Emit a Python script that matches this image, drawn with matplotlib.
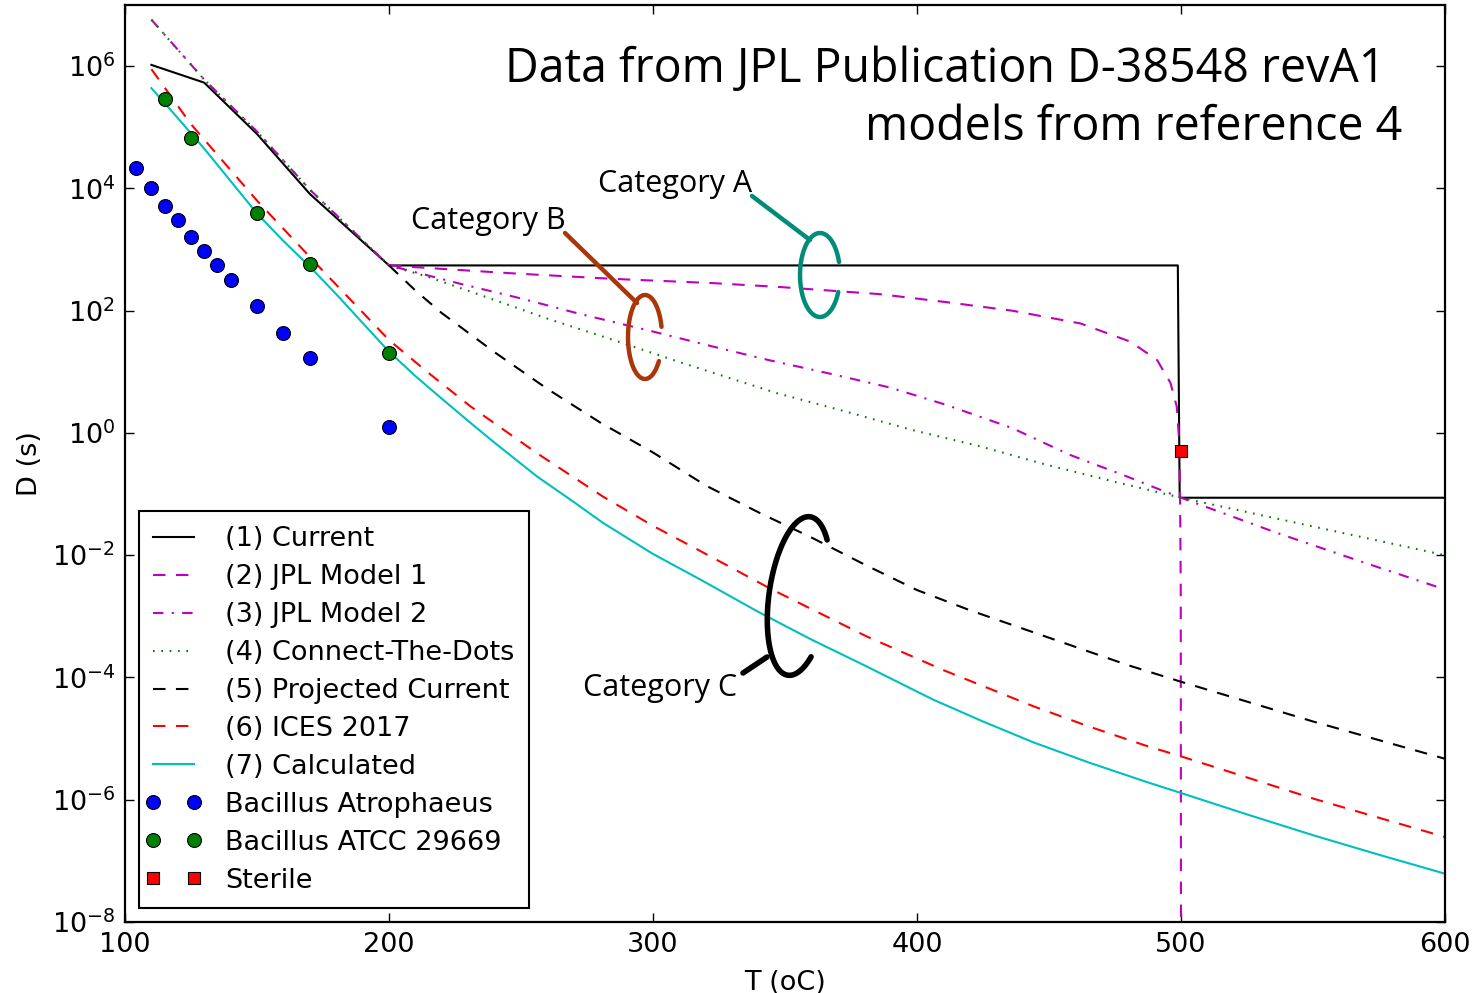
import numpy as np
import matplotlib
matplotlib.use('Agg')
import matplotlib.pyplot as plt
from matplotlib.transforms import Affine2D
from matplotlib.lines import Line2D
from matplotlib.legend_handler import HandlerLine2D
from matplotlib.ticker import NullLocator, FixedLocator

# ---------------- data (log10 of D in seconds) -------------
T_current = [110, 130, 150, 170, 200, 498.8, 499.5, 600]
logD_current = [6.02, 5.73, 4.89, 3.91, 2.74, 2.74, -1.06, -1.06]

T_jpl1 = [200, 225, 247, 285, 323, 347, 386, 411, 436, 462, 481, 491, 496, 498.4, 499.2, 499.6, 499.9, 500]
logD_jpl1 = [2.74, 2.67, 2.61, 2.52, 2.45, 2.39, 2.27, 2.14, 2.00, 1.79, 1.49, 1.19, 0.82, 0.43, -0.07, -0.82, -2.5, -9]

T_jpl2 = [110, 130, 150, 170, 200, 227, 250, 272, 298, 323, 344, 367, 390, 411, 436, 458, 480, 491, 500, 536, 570, 600]
logD_jpl2 = [6.76, 5.78, 4.93, 3.98, 2.74, 2.44, 2.20, 1.95, 1.68, 1.41, 1.19, 0.97, 0.74, 0.46, 0.08, -0.36, -0.72, -0.91, -1.06, -1.63, -2.13, -2.56]

T_ctd = [110, 130, 150, 170, 200, 215, 235, 260, 285, 310, 347, 373, 398, 424, 449, 474, 500, 600]
logD_ctd = [6.76, 5.78, 4.93, 3.98, 2.74, 2.55, 2.25, 1.87, 1.52, 1.16, 0.65, 0.35, 0.05, -0.22, -0.52, -0.79, -1.06, -2.0]

T_proj = [200, 210, 220, 240, 260, 280, 300, 320, 340, 360, 380, 400, 420, 440, 460, 480, 500, 550, 600]
logD_proj = [2.74, 2.33, 1.96, 1.32, 0.72, 0.17, -0.32, -0.86, -1.30, -1.71, -2.15, -2.57, -2.90, -3.20, -3.50, -3.80, -4.07, -4.72, -5.33]

T_ices = [110, 125, 150, 175, 200, 215, 231, 256, 281, 300, 317, 345, 381, 410, 444, 465, 487, 500, 550, 600]
logD_ices = [5.95, 5.05, 3.80, 2.65, 1.52, 0.98, 0.43, -0.33, -1.04, -1.52, -1.91, -2.56, -3.33, -3.88, -4.47, -4.80, -5.12, -5.29, -5.98, -6.61]

T_calc = [110, 120, 130, 140, 150, 160, 170, 180, 190, 200, 210, 220, 231, 240, 256, 270, 281, 300, 318, 340, 360, 380, 406, 425, 444, 465, 487, 500, 525, 550, 575, 600]
logD_calc = [5.64, 5.15, 4.65, 4.12, 3.59, 3.14, 2.72, 2.27, 1.80, 1.33, 0.93, 0.56, 0.16, -0.16, -0.71, -1.13, -1.47, -1.98, -2.40, -2.93, -3.38, -3.80, -4.36, -4.72, -5.06, -5.39, -5.71, -5.89, -6.24, -6.58, -6.90, -7.21]

T_atro = [104, 110, 115, 120, 125, 130, 135, 140, 150, 160, 170, 200]
logD_atro = [4.34, 4.01, 3.72, 3.49, 3.21, 2.97, 2.74, 2.50, 2.07, 1.63, 1.22, 0.10]

T_atcc = [115, 125, 150, 170, 200]
logD_atcc = [5.46, 4.82, 3.59, 2.77, 1.31]

T_sterile = [500]
logD_sterile = [-0.29]

labels = ['(1) Current', '(2) JPL Model 1', '(3) JPL Model 2', '(4) Connect-The-Dots',
          '(5) Projected Current', '(6) ICES 2017', '(7) Calculated',
          'Bacillus Atrophaeus', 'Bacillus ATCC 29669', 'Sterile']
xticks = [100, 200, 300, 400, 500, 600]
yticks = [1e-8, 1e-6, 1e-4, 1e-2, 1e0, 1e2, 1e4, 1e6]

def D(v):
    return 10.0 ** np.asarray(v, dtype=float)

# ---------------- figure -------------
W, H = 1478, 993
plt.rcParams['font.family'] = ['DejaVu Sans']
plt.rcParams['mathtext.fontset'] = 'dejavusans'
plt.rcParams['axes.unicode_minus'] = False
fig = plt.figure(figsize=(W / 100, H / 100), dpi=100)
ax = fig.add_axes([125 / W, 1 - 922 / H, (1445 - 125) / W, (922 - 5) / H])

MAG = (0.75, 0.0, 0.75)
GRN = (0.0, 0.5, 0.0)
CYN = (0.0, 0.75, 0.75)
lw = 1.5

ax.plot(T_current, D(logD_current), color='k', lw=lw, label=labels[0])
ax.plot(T_jpl1, D(logD_jpl1), color=MAG, lw=lw, dashes=(6, 5), label=labels[1])
ax.plot(T_jpl2, D(logD_jpl2), color=MAG, lw=lw, dashes=(5, 4, 1, 4), label=labels[2])
ax.plot(T_ctd, D(logD_ctd), color=GRN, lw=lw, dashes=(0.8, 3.2), label=labels[3])
ax.plot(T_proj, D(logD_proj), color='k', lw=lw, dashes=(6, 5), label=labels[4])
ax.plot(T_ices, D(logD_ices), color='r', lw=lw, dashes=(6, 5), label=labels[5])
ax.plot(T_calc, D(logD_calc), color=CYN, lw=lw, label=labels[6])
ax.plot(T_atro, D(logD_atro), 'o', ls='none', color='b', mec='k', mew=0.8, ms=10, label=labels[7], zorder=4)
ax.plot(T_atcc, D(logD_atcc), 'o', ls='none', color=GRN, mec='k', mew=0.8, ms=10, label=labels[8], zorder=4)
ax.plot(T_sterile, D(logD_sterile), 's', ls='none', color='r', mec='k', mew=0.8, ms=9, label=labels[9], zorder=5)

ax.set_yscale('log')
ax.set_xlim(100, 600)
ax.set_ylim(1e-8, 1e7)
ax.xaxis.set_major_locator(FixedLocator(xticks))
ax.yaxis.set_major_locator(FixedLocator(yticks))
ax.yaxis.set_minor_locator(NullLocator())
ax.xaxis.set_minor_locator(NullLocator())
ax.tick_params(direction='in', length=6.5, width=1.0, top=True, right=True,
               labelsize=19.5, pad=7)
for s in ax.spines.values():
    s.set_linewidth(1.6)

ax.set_xlabel('T (oC)', fontsize=19.5)
ax.set_ylabel('D (s)', fontsize=19.5)
ax.xaxis.set_label_coords(0.5, -0.052)
ax.yaxis.set_label_coords(-0.062, 0.5)

leg = ax.legend(loc='lower left', fontsize=19.5, numpoints=2, handlelength=1.5,
                handletextpad=1.15, labelspacing=0.44, borderpad=0.55,
                borderaxespad=0.5, fancybox=False, framealpha=1, edgecolor='k',
                handler_map={Line2D: HandlerLine2D(marker_pad=0)})
leg.get_frame().set_linewidth(1.5)

# ---------------- annotations (figure pixel coordinates, origin top-left) -------------
pxT = Affine2D().scale(1 / W, -1 / H).translate(0, 1) + fig.transFigure

def ftext(x, y, s, **kw):
    fig.text(x / W, 1 - y / H, s, va='baseline', **kw)

ftext(1385, 82, 'Data from JPL Publication D-38548 revA1', ha='right',
      fontsize=33.5, family=['Open Sans', 'DejaVu Sans'])
ftext(1402, 140, 'models from reference 4', ha='right',
      fontsize=33.5, family=['Open Sans', 'DejaVu Sans'])
ftext(598, 192, 'Category A', ha='left', fontsize=22, family=['Open Sans', 'DejaVu Sans'])
ftext(411, 229, 'Category B', ha='left', fontsize=22, family=['Open Sans', 'DejaVu Sans'])
ftext(583, 696, 'Category C', ha='left', fontsize=22, family=['Open Sans', 'DejaVu Sans'])

def seg(x0, y0, x1, y1, color, lw):
    fig.add_artist(Line2D([x0, x1], [y0, y1], transform=pxT, color=color, lw=lw,
                          solid_capstyle='round'))

def c_shape(cx, cy, a, b, phi_deg, t1, t2, color, lw):
    t = np.radians(np.linspace(t1, t2, 200))
    phi = np.radians(phi_deg)
    x0 = a * np.cos(t)
    y0 = b * np.sin(t)
    x = cx + x0 * np.cos(phi) - y0 * np.sin(phi)
    y = cy + x0 * np.sin(phi) + y0 * np.cos(phi)
    fig.add_artist(Line2D(x, y, transform=pxT, color=color, lw=lw,
                          solid_capstyle='round'))

TEAL = '#008c78'
RUST = '#aa370a'
seg(752, 196, 810, 240, TEAL, 3.2)
c_shape(820, 275, 20, 42, 0, 24, 342, TEAL, 3.2)
seg(565, 233, 637, 303, RUST, 3.2)
c_shape(645, 337, 17, 42, 0, 35, 346, RUST, 3.2)
seg(743, 673, 767, 657, 'k', 4.0)
c_shape(799, 596, 30, 80, 8, 47, 312, 'k', 4.0)

fig.savefig('out.png', dpi=100)
